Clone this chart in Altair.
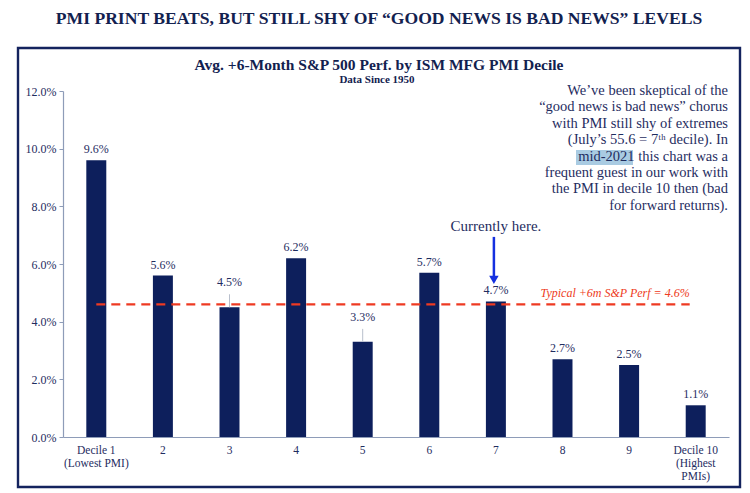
import altair as alt
import pandas as pd

# ---- data ----
deciles = ["Decile 1|(Lowest PMI)", "2", "3", "4", "5", "6", "7", "8", "9",
           "Decile 10|(Highest|PMIs)"]
perf = [9.6, 5.6, 4.5, 6.2, 3.3, 5.7, 4.7, 2.7, 2.5, 1.1]
nudged = ["3", "5"]          # labels lifted above the dashed line
typical = 4.6
current_decile = "7"
y_ticks = [0, 2, 4, 6, 8, 10, 12]

main_title = "PMI PRINT BEATS, BUT STILL SHY OF \u201cGOOD NEWS IS BAD NEWS\u201d LEVELS"
chart_title = "Avg. +6-Month S&P 500 Perf. by ISM MFG PMI Decile"
chart_subtitle = "Data Since 1950"
note_lines = [
    "We\u2019ve been skeptical of the",
    "\u201cgood news is bad news\u201d chorus",
    "with PMI still shy of extremes",
    "(July\u2019s 55.6 = 7\u1d57\u02b0 decile).  In",
    "mid-2021 this chart was a",
    "frequent guest in our work with",
    "the PMI in decile 10 then (bad",
    "for forward returns).",
]
typical_label = "Typical +6m S&P Perf = 4.6%"
current_label = "Currently here."

df = pd.DataFrame({"decile": deciles, "perf": perf})
df["label"] = df["perf"].map(lambda v: f"{v:.1f}%")

NAVY = "#0d1f5c"
TEXT = "#1f2d5f"
AXIS = "#8e9cb8"
RED = "#ee3a22"
BLUE = "#1530e0"
SERIF = "Liberation Serif"

W, H = 666, 346

xscale = alt.Scale(domain=deciles, paddingInner=0.7, paddingOuter=0.35)
xenc = alt.X("decile:N", scale=xscale, title=None,
             axis=alt.Axis(labelAngle=0, labelExpr="split(datum.label, '|')",
                           labelFont=SERIF, labelFontSize=11.5, labelColor=TEXT,
                           labelLineHeight=13, labelPadding=7, ticks=False,
                           domainColor=AXIS, domainWidth=1.2, labelBaseline="top"))
yscale = alt.Scale(domain=[0, 12], nice=False, zero=True)
yenc = alt.Y("perf:Q", scale=yscale, title=None,
             axis=alt.Axis(values=y_ticks, labelExpr="format(datum.value, '.1f') + '%'",
                           labelFont=SERIF, labelFontSize=12, labelColor=TEXT,
                           tickSize=4, tickColor=AXIS, domainColor=AXIS,
                           domainWidth=1.2, grid=False, labelPadding=3))

base = alt.Chart(df)

bars = base.mark_bar(color=NAVY).encode(x=xenc, y=yenc)

labels_normal = base.transform_filter(
    {"not": alt.FieldOneOfPredicate(field="decile", oneOf=nudged)}
).mark_text(font=SERIF, fontSize=12, color=TEXT, baseline="bottom", dy=-4).encode(
    x=alt.X("decile:N", scale=xscale), y=alt.Y("perf:Q", scale=yscale), text="label:N")

labels_nudged = base.transform_filter(
    alt.FieldOneOfPredicate(field="decile", oneOf=nudged)
).mark_text(font=SERIF, fontSize=12, color=TEXT, baseline="bottom", dy=-18).encode(
    x=alt.X("decile:N", scale=xscale), y=alt.Y("perf:Q", scale=yscale), text="label:N")

leaders = base.transform_filter(
    alt.FieldOneOfPredicate(field="decile", oneOf=nudged)
).transform_calculate(top="datum.perf + 0.45").mark_rule(color="#b8bfcc", strokeWidth=1).encode(
    x=alt.X("decile:N", scale=xscale), y=alt.Y("perf:Q", scale=yscale), y2="top:Q")

ref_df = pd.DataFrame({"x1": [deciles[0]], "x2": [deciles[-1]], "y": [typical],
                       "t": [typical_label]})
ref_rule = alt.Chart(ref_df).mark_rule(color=RED, strokeWidth=2.2, strokeDash=[9, 6],
                                       x2Offset=-6).encode(
    x=alt.X("x1:N", scale=xscale), x2="x2:N", y=alt.Y("y:Q", scale=yscale))
ref_text = alt.Chart(ref_df).mark_text(font=SERIF, fontSize=12, fontStyle="italic",
                                       color=RED, align="right", baseline="bottom",
                                       dx=-6, dy=-4).encode(
    x=alt.X("x2:N", scale=xscale), y=alt.Y("y:Q", scale=yscale), text="t:N")

cur_df = pd.DataFrame({"x": [current_decile], "ty": [7.32], "a1": [6.94], "a2": [5.55],
                       "tip": [5.45], "t": [current_label]})
cur_text = alt.Chart(cur_df).mark_text(font=SERIF, fontSize=15, color=TEXT,
                                       baseline="middle").encode(
    x=alt.X("x:N", scale=xscale), y=alt.Y("ty:Q", scale=yscale), text="t:N")
cur_shaft = alt.Chart(cur_df).mark_rule(color=BLUE, strokeWidth=2.5, xOffset=-2).encode(
    x=alt.X("x:N", scale=xscale), y=alt.Y("a1:Q", scale=yscale), y2="a2:Q")
cur_head = alt.Chart(cur_df).mark_point(shape="triangle-down", filled=True, color=BLUE,
                                        size=90, opacity=1, xOffset=-2).encode(
    x=alt.X("x:N", scale=xscale), y=alt.Y("tip:Q", scale=yscale))

# frame and titles
one = pd.DataFrame({"k": [0]})
frame = alt.Chart(one).mark_rect(filled=False, stroke="#14235e", strokeWidth=2.4).encode(
    x=alt.value(-45), x2=alt.value(677), y=alt.value(-43), y2=alt.value(396))
t_main = alt.Chart(pd.DataFrame({"t": [main_title]})).mark_text(
    font=SERIF, fontSize=17.6, fontWeight="bold", color="#12214f", align="center",
    baseline="middle").encode(x=alt.value(316), y=alt.value(-72), text="t:N")
t_chart = alt.Chart(pd.DataFrame({"t": [chart_title]})).mark_text(
    font=SERIF, fontSize=15.5, fontWeight="bold", color="#12214f", align="center",
    baseline="middle").encode(x=alt.value(316), y=alt.value(-26), text="t:N")
t_sub = alt.Chart(pd.DataFrame({"t": [chart_subtitle]})).mark_text(
    font=SERIF, fontSize=11, fontWeight="bold", color="#12214f", align="center",
    baseline="middle").encode(x=alt.value(314), y=alt.value(-11), text="t:N")

highlight = alt.Chart(one).mark_rect(color="#a9cbe2").encode(
    x=alt.value(513), x2=alt.value(570), y=alt.value(59), y2=alt.value(74))
note = alt.Chart(pd.DataFrame({"t": [note_lines]})).mark_text(
    font=SERIF, fontSize=14.5, color=TEXT, align="right", baseline="middle",
    lineHeight=16.4).encode(x=alt.value(665), y=alt.value(0), text="t")

chart = alt.layer(
    frame, t_main, t_chart, t_sub, highlight, note,
    bars, leaders, labels_normal, labels_nudged, ref_rule, ref_text,
    cur_text, cur_shaft, cur_head,
).properties(
    width=W, height=H,
    autosize=alt.AutoSizeParams(type="none"),
    padding={"left": 55, "top": 83, "right": 13, "bottom": 52},
    background="white",
).configure_view(stroke=None)

chart.save("out.html", embed_options={"renderer": "svg", "actions": False})
